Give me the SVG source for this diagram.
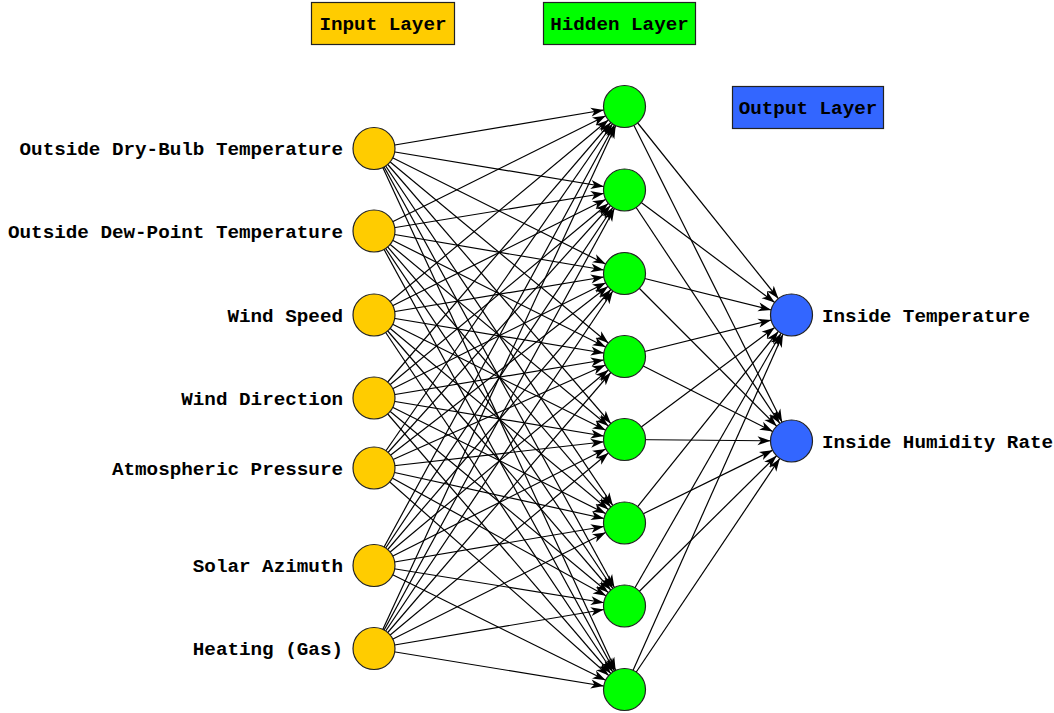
<svg xmlns="http://www.w3.org/2000/svg" width="1054" height="713" viewBox="0 0 1054 713">
<style>
.lbl{font-family:"Liberation Mono","Courier New",monospace;font-weight:bold;font-size:19.25px;fill:#000}
.box{stroke:#222;stroke-width:1.2}
.node{stroke:#222;stroke-width:1.2}
.in{fill:#FFCC00}
.hid{fill:#00FF00}
.out{fill:#3366FF}
.e{stroke:#000;stroke-width:1.2;fill:none;marker-end:url(#arr)}
</style>
<defs>
<marker id="arr" markerUnits="userSpaceOnUse" markerWidth="36" markerHeight="10" refX="34" refY="4.5" orient="auto" overflow="visible">
<path d="M0,0 L13,4.5 L0,9 L3.5,4.5 Z" fill="#000"/>
</marker>
</defs>
<rect width="1054" height="713" fill="#fff"/>
<g id="connectors">
<path class="e" d="M374,148.5 L624.5,106.5"/><path class="e" d="M374,148.5 L624.5,190"/><path class="e" d="M374,148.5 L624.5,273.5"/><path class="e" d="M374,148.5 L624.5,356.5"/><path class="e" d="M374,148.5 L624.5,439.5"/><path class="e" d="M374,148.5 L624.5,523"/><path class="e" d="M374,148.5 L624.5,606"/><path class="e" d="M374,148.5 L624.5,689.5"/>
<path class="e" d="M374,231 L624.5,106.5"/><path class="e" d="M374,231 L624.5,190"/><path class="e" d="M374,231 L624.5,273.5"/><path class="e" d="M374,231 L624.5,356.5"/><path class="e" d="M374,231 L624.5,439.5"/><path class="e" d="M374,231 L624.5,523"/><path class="e" d="M374,231 L624.5,606"/><path class="e" d="M374,231 L624.5,689.5"/>
<path class="e" d="M374,315 L624.5,106.5"/><path class="e" d="M374,315 L624.5,190"/><path class="e" d="M374,315 L624.5,273.5"/><path class="e" d="M374,315 L624.5,356.5"/><path class="e" d="M374,315 L624.5,439.5"/><path class="e" d="M374,315 L624.5,523"/><path class="e" d="M374,315 L624.5,606"/><path class="e" d="M374,315 L624.5,689.5"/>
<path class="e" d="M374,398 L624.5,106.5"/><path class="e" d="M374,398 L624.5,190"/><path class="e" d="M374,398 L624.5,273.5"/><path class="e" d="M374,398 L624.5,356.5"/><path class="e" d="M374,398 L624.5,439.5"/><path class="e" d="M374,398 L624.5,523"/><path class="e" d="M374,398 L624.5,606"/><path class="e" d="M374,398 L624.5,689.5"/>
<path class="e" d="M374,468 L624.5,106.5"/><path class="e" d="M374,468 L624.5,190"/><path class="e" d="M374,468 L624.5,273.5"/><path class="e" d="M374,468 L624.5,356.5"/><path class="e" d="M374,468 L624.5,439.5"/><path class="e" d="M374,468 L624.5,523"/><path class="e" d="M374,468 L624.5,606"/><path class="e" d="M374,468 L624.5,689.5"/>
<path class="e" d="M374,565.5 L624.5,106.5"/><path class="e" d="M374,565.5 L624.5,190"/><path class="e" d="M374,565.5 L624.5,273.5"/><path class="e" d="M374,565.5 L624.5,356.5"/><path class="e" d="M374,565.5 L624.5,439.5"/><path class="e" d="M374,565.5 L624.5,523"/><path class="e" d="M374,565.5 L624.5,606"/><path class="e" d="M374,565.5 L624.5,689.5"/>
<path class="e" d="M374,648.5 L624.5,106.5"/><path class="e" d="M374,648.5 L624.5,190"/><path class="e" d="M374,648.5 L624.5,273.5"/><path class="e" d="M374,648.5 L624.5,356.5"/><path class="e" d="M374,648.5 L624.5,439.5"/><path class="e" d="M374,648.5 L624.5,523"/><path class="e" d="M374,648.5 L624.5,606"/><path class="e" d="M374,648.5 L624.5,689.5"/>
<path class="e" d="M624.5,106.5 L791.5,315"/><path class="e" d="M624.5,106.5 L791.5,441"/>
<path class="e" d="M624.5,190 L791.5,315"/><path class="e" d="M624.5,190 L791.5,441"/>
<path class="e" d="M624.5,273.5 L791.5,315"/><path class="e" d="M624.5,273.5 L791.5,441"/>
<path class="e" d="M624.5,356.5 L791.5,315"/><path class="e" d="M624.5,356.5 L791.5,441"/>
<path class="e" d="M624.5,439.5 L791.5,315"/><path class="e" d="M624.5,439.5 L791.5,441"/>
<path class="e" d="M624.5,523 L791.5,315"/><path class="e" d="M624.5,523 L791.5,441"/>
<path class="e" d="M624.5,606 L791.5,315"/><path class="e" d="M624.5,606 L791.5,441"/>
<path class="e" d="M624.5,689.5 L791.5,315"/><path class="e" d="M624.5,689.5 L791.5,441"/>
</g>
<g id="label-input"><rect class="box in" x="311.5" y="2.5" width="143" height="42"/><text class="lbl" x="383" y="30" text-anchor="middle">Input Layer</text></g>
<g id="label-hidden"><rect class="box hid" x="543.5" y="2.5" width="152" height="42"/><text class="lbl" x="619.5" y="30" text-anchor="middle">Hidden Layer</text></g>
<g id="label-output"><rect class="box out" x="732.5" y="86.5" width="151" height="42"/><text class="lbl" x="808" y="114" text-anchor="middle">Output Layer</text></g>
<g id="in1"><circle class="node in" cx="374" cy="148.5" r="21"/><text class="lbl" x="343" y="155" text-anchor="end">Outside Dry-Bulb Temperature</text></g>
<g id="in2"><circle class="node in" cx="374" cy="231" r="21"/><text class="lbl" x="343" y="237.5" text-anchor="end">Outside Dew-Point Temperature</text></g>
<g id="in3"><circle class="node in" cx="374" cy="315" r="21"/><text class="lbl" x="343" y="321.5" text-anchor="end">Wind Speed</text></g>
<g id="in4"><circle class="node in" cx="374" cy="398" r="21"/><text class="lbl" x="343" y="404.5" text-anchor="end">Wind Direction</text></g>
<g id="in5"><circle class="node in" cx="374" cy="468" r="21"/><text class="lbl" x="343" y="474.5" text-anchor="end">Atmospheric Pressure</text></g>
<g id="in6"><circle class="node in" cx="374" cy="565.5" r="21"/><text class="lbl" x="343" y="572" text-anchor="end">Solar Azimuth</text></g>
<g id="in7"><circle class="node in" cx="374" cy="648.5" r="21"/><text class="lbl" x="343" y="655" text-anchor="end">Heating (Gas)</text></g>
<g id="h1"><circle class="node hid" cx="624.5" cy="106.5" r="21"/></g>
<g id="h2"><circle class="node hid" cx="624.5" cy="190" r="21"/></g>
<g id="h3"><circle class="node hid" cx="624.5" cy="273.5" r="21"/></g>
<g id="h4"><circle class="node hid" cx="624.5" cy="356.5" r="21"/></g>
<g id="h5"><circle class="node hid" cx="624.5" cy="439.5" r="21"/></g>
<g id="h6"><circle class="node hid" cx="624.5" cy="523" r="21"/></g>
<g id="h7"><circle class="node hid" cx="624.5" cy="606" r="21"/></g>
<g id="h8"><circle class="node hid" cx="624.5" cy="689.5" r="21"/></g>
<g id="o1"><circle class="node out" cx="791.5" cy="315" r="21"/><text class="lbl" x="822" y="321.5">Inside Temperature</text></g>
<g id="o2"><circle class="node out" cx="791.5" cy="441" r="21"/><text class="lbl" x="822" y="447.5">Inside Humidity Rate</text></g>
</svg>
